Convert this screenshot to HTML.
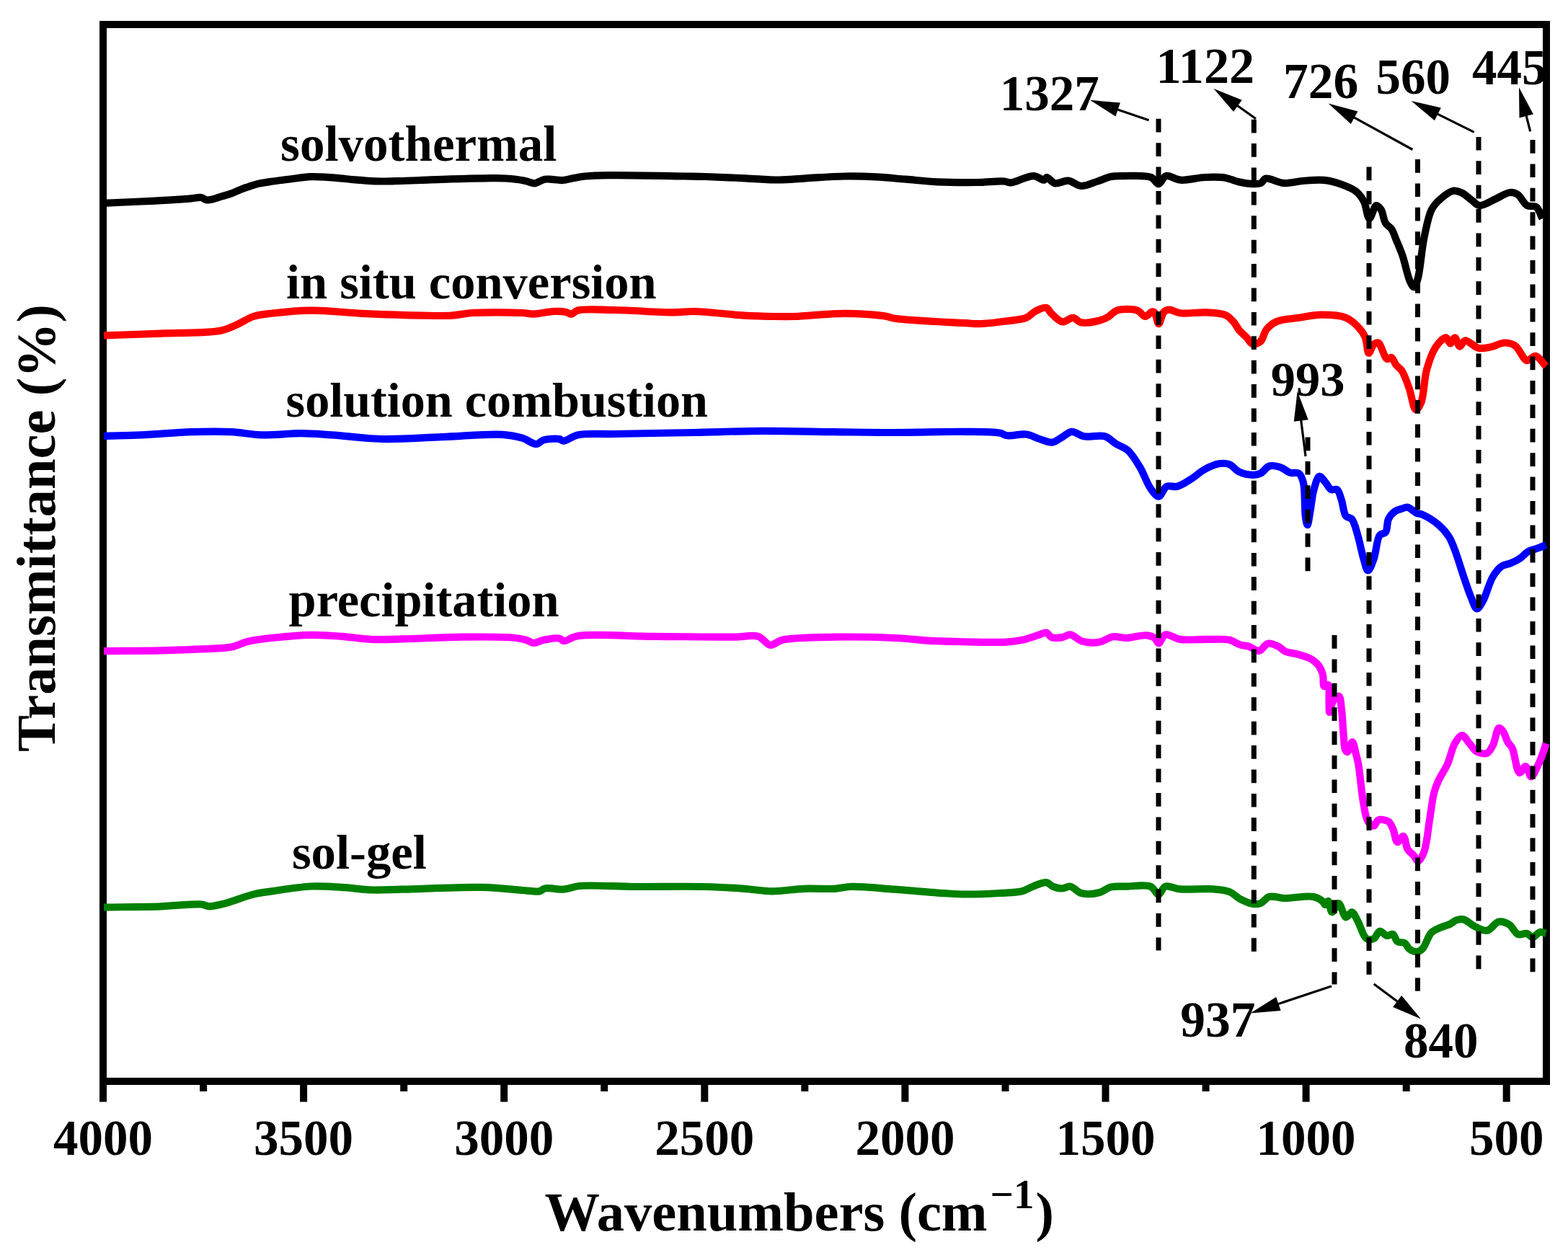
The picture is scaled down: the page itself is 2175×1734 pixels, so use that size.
<!DOCTYPE html>
<html><head><meta charset="utf-8"><title>FTIR spectra</title>
<style>html,body{margin:0;padding:0;background:#fff;}body{width:2175px;height:1734px;overflow:hidden;}svg{display:block;}</style>
</head><body>
<svg width="2175" height="1734" viewBox="0 0 2175 1734">
<defs><clipPath id="pc"><rect x="148" y="39" width="1992" height="1456"/></clipPath></defs>
<rect x="0" y="0" width="2175" height="1734" fill="#fff"/>
<rect x="143" y="34" width="2002" height="1466" fill="none" stroke="#000" stroke-width="10"/>
<line x1="143.0" y1="1500" x2="143.0" y2="1528.5" stroke="#000" stroke-width="10"/>
<line x1="282.1" y1="1500" x2="282.1" y2="1514" stroke="#000" stroke-width="10"/>
<line x1="421.1" y1="1500" x2="421.1" y2="1528.5" stroke="#000" stroke-width="10"/>
<line x1="560.2" y1="1500" x2="560.2" y2="1514" stroke="#000" stroke-width="10"/>
<line x1="699.2" y1="1500" x2="699.2" y2="1528.5" stroke="#000" stroke-width="10"/>
<line x1="838.2" y1="1500" x2="838.2" y2="1514" stroke="#000" stroke-width="10"/>
<line x1="977.3" y1="1500" x2="977.3" y2="1528.5" stroke="#000" stroke-width="10"/>
<line x1="1116.3" y1="1500" x2="1116.3" y2="1514" stroke="#000" stroke-width="10"/>
<line x1="1255.4" y1="1500" x2="1255.4" y2="1528.5" stroke="#000" stroke-width="10"/>
<line x1="1394.5" y1="1500" x2="1394.5" y2="1514" stroke="#000" stroke-width="10"/>
<line x1="1533.5" y1="1500" x2="1533.5" y2="1528.5" stroke="#000" stroke-width="10"/>
<line x1="1672.6" y1="1500" x2="1672.6" y2="1514" stroke="#000" stroke-width="10"/>
<line x1="1811.6" y1="1500" x2="1811.6" y2="1528.5" stroke="#000" stroke-width="10"/>
<line x1="1950.7" y1="1500" x2="1950.7" y2="1514" stroke="#000" stroke-width="10"/>
<line x1="2089.7" y1="1500" x2="2089.7" y2="1528.5" stroke="#000" stroke-width="10"/>
<path d="M144.0,281.8C161.2,281.0 181.1,280.2 195.7,279.5C206.4,279.0 213.3,278.7 223.5,278.1C236.0,277.4 255.0,276.2 265.2,275.4C271.1,274.9 275.3,273.4 279.1,274.0C281.9,274.5 283.7,276.9 286.1,277.3C288.4,277.7 290.3,277.2 293.0,276.7C296.9,276.0 302.3,274.0 307.0,272.6C311.6,271.2 316.3,270.1 320.9,268.4C325.6,266.7 330.4,264.1 334.8,262.4C338.7,260.9 342.1,259.8 346.0,258.6C350.3,257.2 354.6,255.7 359.4,254.6C364.7,253.4 370.1,252.7 376.5,251.8C384.7,250.6 395.3,249.3 404.4,248.2C413.1,247.1 421.9,245.6 430.0,245.2C437.3,244.8 443.9,245.2 450.9,245.6C457.8,246.0 464.8,246.7 471.7,247.3C478.7,247.9 485.1,248.7 492.6,249.3C501.2,250.0 511.1,251.1 520.4,251.4C529.7,251.7 538.5,251.4 548.3,251.2C559.2,251.0 570.9,250.4 583.0,250.0C596.3,249.5 610.3,248.8 624.8,248.4C640.4,247.9 659.5,247.4 673.5,247.3C684.1,247.2 692.2,246.9 701.3,247.5C710.3,248.1 720.5,249.3 727.8,250.7C733.1,251.7 736.7,254.5 741.2,254.3C746.0,254.0 750.1,249.6 755.7,248.7C762.8,247.6 773.6,250.5 780.7,250.0C786.0,249.6 789.7,248.2 794.6,247.3C799.9,246.3 804.8,245.2 811.3,244.5C820.5,243.5 830.4,243.3 844.7,243.1C870.1,242.7 926.7,244.1 950.5,244.5C962.6,244.7 967.2,244.7 978.0,245.0C993.4,245.5 1016.1,246.5 1034.0,247.3C1050.4,248.0 1066.6,249.6 1081.3,249.5C1094.2,249.4 1104.1,248.0 1117.5,247.3C1134.0,246.4 1155.8,244.7 1173.0,244.5C1188.0,244.3 1201.0,244.7 1215.0,245.4C1228.9,246.1 1242.6,247.6 1256.6,248.7C1270.9,249.9 1284.6,251.6 1300.0,252.3C1317.4,253.1 1339.0,253.2 1355.7,253.0C1369.3,252.8 1384.6,250.8 1392.8,251.5C1396.9,251.8 1398.0,253.6 1402.0,253.4C1409.4,253.1 1425.1,243.8 1433.6,244.1C1439.5,244.3 1445.3,250.4 1448.4,249.7C1450.2,249.3 1450.4,246.1 1452.0,246.0C1454.7,245.8 1458.8,253.3 1463.3,254.3C1468.5,255.5 1475.8,250.0 1481.8,250.6C1487.8,251.2 1493.1,257.6 1499.4,258.0C1506.5,258.4 1515.3,253.8 1522.6,251.5C1529.1,249.4 1534.8,246.2 1541.0,245.0C1547.1,243.8 1552.4,244.1 1559.7,244.1C1570.0,244.1 1588.6,242.6 1596.8,246.0C1601.8,248.1 1603.7,255.3 1607.0,255.2C1610.5,255.0 1612.8,245.4 1617.3,244.1C1622.6,242.6 1630.0,249.1 1637.7,249.7C1647.4,250.5 1660.3,246.5 1671.0,246.0C1681.0,245.6 1691.7,245.3 1700.0,246.7C1706.5,247.8 1711.0,250.6 1717.0,252.0C1723.7,253.5 1732.5,255.1 1738.4,255.2C1742.5,255.3 1746.1,255.4 1749.0,254.0C1751.7,252.7 1752.3,248.6 1755.5,247.7C1761.0,246.2 1772.4,253.5 1781.0,254.0C1789.5,254.5 1797.8,251.7 1806.7,251.0C1816.3,250.3 1827.0,248.9 1836.5,249.9C1845.4,250.8 1854.2,253.4 1862.0,256.3C1869.1,258.9 1876.3,261.7 1881.4,265.9C1886.0,269.7 1889.1,274.2 1892.0,279.7C1895.4,286.3 1896.5,302.9 1899.5,303.2C1902.2,303.4 1905.7,285.7 1909.0,285.0C1911.1,284.6 1913.6,287.7 1915.5,290.4C1918.4,294.6 1919.0,304.8 1922.0,309.6C1924.3,313.3 1928.1,314.5 1930.4,318.0C1933.2,322.1 1934.5,327.5 1936.8,333.0C1939.5,339.5 1942.6,346.3 1945.4,354.4C1949.0,364.8 1952.4,383.3 1956.0,390.7C1957.8,394.4 1959.7,398.4 1961.4,398.2C1963.4,398.0 1965.1,391.9 1966.7,386.4C1970.1,374.9 1971.7,347.9 1975.2,331.0C1978.3,316.3 1980.9,300.2 1986.0,290.4C1989.5,283.7 1993.8,279.7 1998.7,275.5C2003.7,271.2 2010.3,265.7 2015.8,264.8C2020.2,264.1 2024.5,266.1 2028.6,268.0C2033.1,270.1 2037.3,274.6 2041.4,277.6C2045.1,280.3 2047.7,284.5 2052.0,285.0C2057.8,285.7 2066.3,279.5 2073.4,276.5C2080.5,273.5 2088.7,267.4 2094.7,267.0C2098.8,266.7 2102.0,267.8 2105.4,270.0C2109.9,272.9 2113.4,282.3 2118.2,285.0C2122.1,287.2 2127.6,284.7 2131.0,287.2C2135.0,290.1 2136.7,297.9 2139.5,303.2" fill="none" stroke="#000000" stroke-width="10.2" stroke-linejoin="round" stroke-linecap="butt"/>
<path d="M144.0,465.4C170.5,464.5 196.7,463.7 223.5,462.6C251.0,461.4 288.2,462.3 307.0,458.4C317.0,456.3 322.0,453.2 329.3,450.0C336.8,446.7 343.7,441.5 351.5,439.0C359.4,436.4 366.6,436.0 376.6,434.8C391.5,433.0 412.6,430.7 432.2,430.6C454.1,430.4 477.5,433.7 501.8,434.8C528.4,436.0 562.2,437.2 585.3,437.6C601.6,437.9 614.5,438.4 627.0,437.6C637.3,436.9 643.6,434.7 655.0,434.0C673.0,432.9 709.7,433.2 724.5,434.0C731.5,434.4 734.1,435.7 740.0,435.6C747.9,435.5 759.7,432.3 767.8,432.0C774.1,431.7 779.9,431.9 784.5,432.8C787.8,433.4 790.2,435.9 792.9,435.6C795.7,435.3 797.0,431.8 801.2,430.6C810.7,427.9 832.5,429.7 851.3,430.0C875.6,430.3 914.4,433.5 934.8,433.4C946.6,433.3 951.3,431.8 962.7,432.0C980.7,432.3 1012.0,436.4 1032.2,437.6C1047.9,438.5 1061.5,438.8 1074.0,439.0C1084.2,439.2 1090.5,439.3 1101.8,439.0C1119.8,438.5 1149.5,434.8 1171.4,434.8C1191.0,434.8 1214.7,436.6 1227.0,438.4C1233.3,439.3 1234.7,440.7 1241.0,441.7C1253.3,443.6 1279.2,444.9 1296.6,446.0C1312.0,447.0 1328.6,447.6 1340.0,448.2C1347.5,448.6 1351.3,449.4 1358.6,449.2C1368.9,449.0 1384.2,447.0 1395.7,445.5C1405.7,444.2 1416.2,443.8 1423.5,440.8C1429.0,438.5 1431.8,433.8 1436.5,431.5C1441.1,429.2 1447.5,425.8 1451.3,426.9C1454.6,427.8 1455.6,432.5 1458.7,435.3C1462.7,438.9 1468.4,445.7 1473.6,446.4C1478.4,447.1 1483.9,440.4 1488.4,440.8C1492.5,441.1 1494.9,446.3 1499.6,447.3C1506.3,448.7 1518.7,446.2 1525.5,444.5C1530.1,443.3 1533.0,442.0 1536.7,439.9C1541.0,437.5 1544.1,432.4 1549.6,430.6C1556.8,428.3 1570.6,428.3 1577.5,430.6C1582.4,432.2 1585.0,438.9 1588.6,439.0C1591.8,439.1 1595.4,433.0 1597.9,432.5C1599.3,432.2 1600.5,432.4 1601.6,433.4C1604.0,435.5 1605.1,449.1 1607.2,449.2C1609.4,449.3 1611.4,435.6 1614.6,432.5C1616.7,430.5 1619.1,429.8 1622.0,429.7C1626.1,429.6 1630.7,433.4 1636.8,434.3C1646.3,435.6 1662.7,432.7 1674.0,433.4C1683.5,434.0 1693.5,434.2 1700.0,437.1C1704.8,439.3 1707.9,442.9 1711.0,446.4C1714.0,449.8 1715.6,453.9 1718.5,457.5C1721.7,461.4 1726.3,465.1 1729.6,468.6C1732.4,471.5 1733.9,476.1 1737.0,477.0C1740.2,477.9 1745.5,476.1 1748.6,473.5C1752.4,470.3 1753.0,461.7 1756.7,457.1C1760.4,452.5 1764.9,448.7 1771.0,446.0C1779.0,442.5 1791.4,442.4 1801.6,440.8C1811.8,439.3 1821.7,436.8 1832.2,436.7C1843.4,436.6 1857.9,437.2 1867.0,440.8C1873.9,443.6 1878.8,448.4 1883.3,453.0C1887.5,457.3 1891.0,461.7 1893.5,467.3C1896.4,473.7 1896.2,489.4 1898.6,489.8C1900.5,490.1 1903.0,479.9 1905.7,477.6C1907.6,476.1 1909.8,474.7 1911.8,475.5C1915.9,477.1 1919.9,496.4 1924.0,498.0C1926.1,498.8 1928.4,495.3 1930.2,496.0C1932.7,496.9 1933.9,502.9 1936.3,506.0C1938.7,509.0 1942.0,510.5 1944.5,514.3C1948.3,520.1 1951.6,530.2 1954.7,538.8C1958.1,548.1 1960.3,567.8 1963.9,568.4C1966.1,568.8 1969.0,563.8 1971.0,559.2C1975.1,549.9 1975.3,526.0 1979.2,512.2C1982.5,500.7 1986.1,489.3 1991.4,481.6C1995.5,475.7 2002.1,468.1 2005.7,468.4C2008.3,468.6 2009.8,476.5 2011.8,476.5C2013.9,476.5 2016.0,468.3 2018.0,468.4C2020.4,468.6 2022.5,480.3 2025.0,480.6C2027.2,480.8 2029.0,473.0 2032.2,472.4C2036.7,471.6 2044.4,481.3 2050.6,482.7C2056.0,483.9 2061.3,482.6 2067.0,481.6C2073.5,480.4 2081.1,475.5 2087.3,475.5C2092.5,475.5 2097.1,476.6 2101.6,479.6C2107.6,483.6 2112.5,498.8 2118.0,500.0C2122.0,500.9 2126.0,493.3 2130.0,493.9C2134.9,494.7 2139.7,503.4 2144.5,508.2" fill="none" stroke="#ff0000" stroke-width="10.2" stroke-linejoin="round" stroke-linecap="butt"/>
<path d="M144.0,604.8C161.2,604.3 177.2,604.2 195.7,603.4C217.2,602.5 243.3,599.9 265.2,599.2C284.8,598.6 303.8,598.3 321.0,599.2C335.9,600.0 347.8,602.9 362.7,603.4C379.9,603.9 401.1,601.1 418.3,601.2C433.2,601.3 444.3,602.4 460.0,603.4C480.3,604.7 505.3,608.4 529.6,609.0C556.2,609.6 585.3,607.2 613.1,606.2C640.9,605.2 676.3,601.5 696.6,602.8C708.4,603.6 716.2,605.1 724.5,607.6C731.7,609.7 738.6,616.3 744.0,616.0C747.9,615.8 749.8,611.6 754.0,610.4C759.8,608.7 771.1,608.1 776.0,609.0C778.6,609.5 779.2,611.7 781.7,611.7C786.2,611.8 793.0,605.2 801.2,603.4C813.8,600.6 831.3,602.5 851.3,602.0C881.1,601.3 926.8,600.7 962.7,600.0C996.2,599.3 1027.5,597.9 1060.0,597.8C1092.5,597.7 1126.3,598.8 1157.5,599.2C1186.4,599.5 1212.0,600.0 1241.0,600.0C1272.6,600.0 1313.2,598.4 1340.0,598.8C1358.4,599.0 1376.3,598.8 1386.4,600.6C1391.5,601.5 1393.0,603.7 1397.5,604.3C1404.3,605.2 1415.7,601.4 1423.5,602.5C1430.3,603.4 1435.9,607.1 1442.0,609.0C1447.9,610.8 1454.3,614.2 1459.7,613.6C1464.7,613.0 1469.1,608.7 1473.6,606.2C1478.0,603.8 1481.9,599.1 1486.6,598.8C1491.7,598.4 1496.8,604.1 1503.3,605.3C1511.7,606.9 1525.1,602.8 1533.0,605.3C1539.1,607.2 1542.6,612.3 1547.8,615.5C1553.1,618.8 1559.4,620.2 1564.5,624.7C1570.8,630.3 1576.1,639.6 1581.2,648.0C1586.7,657.1 1590.8,670.4 1596.0,677.6C1599.6,682.6 1603.6,688.9 1607.2,688.7C1611.0,688.5 1613.7,677.0 1618.3,674.8C1622.5,672.8 1627.9,676.1 1633.1,674.8C1639.6,673.2 1647.2,667.7 1653.5,663.7C1659.5,659.9 1664.1,655.0 1670.2,651.6C1676.5,648.1 1684.2,644.3 1690.6,643.3C1695.9,642.4 1700.9,642.5 1705.5,644.2C1710.3,646.0 1713.4,652.0 1718.5,654.4C1724.2,657.1 1732.9,658.8 1738.4,658.8C1742.4,658.8 1745.2,658.3 1748.6,656.7C1752.7,654.7 1756.1,647.9 1760.8,646.5C1765.6,645.1 1772.1,647.0 1777.0,648.6C1781.6,650.1 1785.1,654.4 1789.4,655.7C1793.4,656.9 1798.6,654.7 1801.6,656.7C1804.8,658.9 1806.3,663.4 1807.8,669.0C1810.6,679.4 1809.3,705.5 1810.8,716.0C1811.6,721.4 1812.5,728.2 1813.5,728.2C1814.8,728.2 1816.6,713.4 1818.0,705.7C1819.4,697.7 1819.9,688.9 1822.0,681.2C1824.0,674.0 1826.9,661.5 1830.2,660.8C1832.6,660.3 1835.8,666.0 1838.4,669.0C1841.2,672.1 1843.4,677.7 1846.5,679.2C1849.0,680.4 1852.5,677.7 1854.7,679.2C1857.7,681.2 1858.9,688.1 1860.8,693.5C1863.1,700.1 1863.5,711.8 1867.0,716.0C1869.1,718.6 1872.7,717.4 1875.0,720.0C1878.8,724.2 1880.8,734.2 1883.3,742.4C1886.3,752.2 1888.6,766.0 1891.4,775.0C1893.4,781.5 1895.2,791.3 1897.6,791.4C1900.0,791.5 1903.3,781.5 1905.7,775.0C1909.0,766.1 1909.5,747.8 1913.9,742.4C1916.2,739.6 1920.0,740.9 1922.0,738.4C1924.8,734.8 1923.6,725.0 1926.0,720.0C1928.0,715.8 1931.0,712.2 1934.3,709.8C1937.3,707.6 1941.2,706.7 1944.5,705.7C1947.3,704.8 1949.8,703.2 1952.7,703.7C1956.5,704.4 1961.2,710.1 1965.0,711.8C1967.8,713.1 1969.8,712.5 1973.0,713.9C1978.8,716.4 1989.2,722.8 1995.5,728.2C2001.2,733.1 2006.0,738.6 2009.8,744.5C2013.4,750.2 2015.2,755.6 2018.0,762.9C2021.9,773.0 2026.3,788.1 2030.2,799.6C2033.7,809.7 2036.9,820.1 2040.4,828.2C2043.1,834.5 2045.6,844.2 2048.6,844.5C2051.1,844.8 2054.0,839.0 2056.7,834.3C2061.4,826.4 2065.6,808.3 2071.0,799.6C2074.8,793.4 2078.7,788.4 2083.3,785.3C2087.1,782.8 2091.5,782.9 2095.5,781.2C2099.7,779.5 2103.9,777.7 2107.8,775.1C2112.0,772.3 2115.7,767.3 2120.0,764.9C2123.9,762.7 2128.2,762.3 2132.2,760.8C2136.3,759.3 2140.4,757.4 2144.5,755.7" fill="none" stroke="#0000ff" stroke-width="10.2" stroke-linejoin="round" stroke-linecap="butt"/>
<path d="M144.0,903.1C170.5,902.8 199.4,902.8 223.5,902.3C243.7,901.9 262.0,901.3 279.2,900.4C294.1,899.6 309.4,899.9 321.0,897.6C329.7,895.9 334.9,892.0 343.2,890.0C353.1,887.6 364.0,886.4 376.6,885.0C392.8,883.2 415.0,881.1 432.2,880.9C447.1,880.7 460.1,881.8 474.0,882.8C487.9,883.8 501.8,886.4 515.7,887.0C529.6,887.6 541.2,886.8 557.5,886.4C580.6,885.9 614.4,884.0 641.0,883.7C665.3,883.4 694.6,883.1 710.6,884.5C719.1,885.3 724.7,886.2 730.0,887.8C734.0,889.0 736.4,891.8 740.0,892.0C744.2,892.2 748.7,888.8 753.9,887.8C760.4,886.5 771.4,884.4 776.2,885.6C778.8,886.2 779.2,888.9 781.7,889.2C786.1,889.7 791.9,883.9 801.2,882.3C822.2,878.7 871.3,882.6 907.0,882.8C943.6,883.0 992.0,883.9 1018.3,883.7C1032.7,883.6 1042.8,880.1 1051.7,882.8C1058.7,884.9 1062.7,894.2 1068.4,894.8C1073.8,895.4 1077.3,889.6 1085.0,887.8C1100.5,884.2 1132.5,884.2 1157.5,883.7C1184.3,883.2 1216.0,883.9 1241.0,885.0C1261.4,885.9 1279.2,888.3 1296.6,889.2C1312.0,890.0 1324.6,890.1 1340.0,890.3C1357.4,890.6 1381.3,891.5 1395.7,890.6C1404.8,890.1 1410.5,889.4 1418.0,887.8C1425.9,886.1 1435.9,882.3 1442.0,880.4C1445.8,879.2 1448.5,877.0 1451.3,877.6C1454.1,878.2 1455.5,882.9 1458.7,884.1C1462.6,885.6 1469.1,884.8 1473.6,884.1C1477.6,883.4 1480.7,880.0 1484.7,880.4C1489.8,880.9 1495.1,887.9 1501.4,889.7C1508.5,891.7 1518.1,891.9 1525.5,890.6C1532.2,889.4 1537.7,884.1 1544.0,883.2C1550.1,882.3 1555.8,885.1 1562.6,885.0C1571.0,884.9 1583.4,880.6 1590.5,881.3C1595.1,881.7 1598.8,882.9 1601.6,885.0C1604.1,886.8 1605.1,892.5 1607.2,892.5C1609.9,892.5 1612.1,881.8 1616.4,880.4C1621.5,878.8 1628.9,885.7 1636.8,886.9C1647.2,888.5 1662.1,886.7 1674.0,886.9C1684.9,887.1 1697.1,885.9 1705.5,887.8C1711.5,889.2 1715.5,893.0 1720.3,894.5C1724.4,895.8 1728.1,895.5 1732.2,896.7C1736.8,898.1 1742.1,903.5 1746.5,902.9C1751.0,902.3 1754.3,893.7 1758.8,892.7C1763.1,891.8 1768.8,894.7 1773.0,896.7C1776.9,898.5 1779.4,902.2 1783.3,903.9C1787.5,905.7 1792.7,905.7 1797.6,907.0C1802.9,908.4 1809.8,910.4 1813.9,912.0C1816.5,913.0 1817.9,913.6 1820.0,915.0C1822.9,917.0 1826.8,920.0 1829.3,923.3C1831.8,926.7 1833.6,930.9 1834.9,935.4C1836.3,940.4 1834.6,950.7 1836.8,952.0C1838.1,952.8 1841.0,949.2 1842.3,950.0C1844.6,951.5 1843.2,963.5 1843.5,970.0C1843.8,976.2 1843.3,987.9 1844.2,988.0C1845.0,988.1 1846.3,978.7 1848.0,975.0C1849.4,971.9 1851.1,968.4 1853.0,967.0C1854.4,966.0 1856.3,965.2 1857.5,966.0C1859.9,967.6 1860.0,977.6 1861.0,985.0C1862.3,995.1 1862.8,1010.9 1863.8,1021.0C1864.5,1028.3 1864.3,1036.5 1866.0,1040.0C1866.8,1041.6 1867.9,1043.2 1869.0,1043.0C1871.0,1042.7 1874.0,1029.2 1875.9,1029.4C1877.8,1029.6 1879.1,1039.2 1880.5,1044.3C1881.9,1049.4 1882.9,1053.1 1884.2,1060.0C1886.5,1072.7 1888.6,1100.5 1891.4,1115.1C1893.3,1125.0 1894.2,1134.5 1897.6,1139.6C1899.8,1142.9 1903.3,1146.0 1905.7,1145.7C1908.1,1145.4 1908.9,1138.8 1911.8,1137.6C1915.3,1136.2 1922.6,1137.3 1926.0,1139.6C1929.1,1141.7 1930.3,1145.8 1932.2,1149.8C1934.6,1154.9 1935.5,1167.5 1938.4,1168.2C1940.6,1168.7 1944.3,1159.5 1946.5,1160.0C1949.4,1160.7 1949.8,1173.7 1952.7,1178.4C1954.9,1182.0 1958.4,1183.7 1960.8,1186.5C1963.1,1189.1 1964.8,1194.8 1967.0,1194.7C1969.6,1194.6 1972.8,1188.1 1975.1,1182.4C1979.2,1172.1 1980.8,1150.2 1983.3,1135.5C1985.5,1122.5 1986.8,1108.5 1989.4,1098.8C1991.2,1092.1 1992.9,1088.2 1995.5,1082.4C1998.7,1075.4 2004.2,1068.1 2007.8,1060.0C2011.8,1051.2 2013.8,1038.4 2018.0,1031.4C2021.0,1026.4 2024.8,1020.2 2028.2,1020.2C2031.6,1020.2 2035.0,1027.7 2038.4,1031.4C2041.8,1035.2 2044.4,1040.5 2048.6,1042.7C2052.6,1044.8 2059.1,1046.3 2062.9,1044.7C2066.6,1043.1 2068.6,1038.1 2071.0,1033.5C2074.2,1027.3 2075.9,1010.9 2079.2,1010.0C2081.1,1009.5 2083.5,1012.7 2085.3,1015.1C2087.8,1018.5 2089.1,1025.4 2091.4,1029.4C2093.3,1032.6 2095.6,1033.7 2097.6,1037.6C2101.3,1045.0 2103.6,1071.3 2107.8,1072.2C2110.3,1072.8 2113.5,1062.7 2116.0,1063.0C2118.9,1063.3 2121.3,1077.2 2124.0,1077.3C2126.7,1077.4 2129.8,1068.6 2132.2,1064.0C2134.6,1059.4 2136.5,1054.9 2138.4,1049.8C2140.6,1044.1 2142.5,1037.5 2144.5,1031.4" fill="none" stroke="#ff00ff" stroke-width="10.2" stroke-linejoin="round" stroke-linecap="butt"/>
<path d="M144.0,1258.7C170.5,1258.2 199.4,1258.1 223.5,1257.3C243.7,1256.6 267.8,1253.4 279.2,1254.5C284.4,1255.0 285.9,1257.2 290.3,1257.3C296.4,1257.5 304.2,1255.2 312.6,1253.1C323.9,1250.2 339.9,1243.4 351.5,1240.6C360.7,1238.4 366.6,1237.9 376.6,1236.4C391.5,1234.2 415.0,1230.3 432.2,1229.5C447.1,1228.8 460.1,1230.1 474.0,1230.9C487.9,1231.7 501.8,1234.0 515.7,1234.5C529.6,1235.0 540.2,1234.1 557.5,1233.7C585.7,1233.1 638.1,1230.2 668.8,1230.9C690.6,1231.4 711.7,1233.9 724.5,1235.0C731.3,1235.6 735.6,1236.2 740.0,1236.4C743.2,1236.5 745.6,1237.0 748.3,1236.4C751.2,1235.7 753.0,1233.0 756.7,1232.3C762.7,1231.1 773.6,1234.3 781.7,1233.7C789.4,1233.1 794.3,1229.9 804.0,1229.0C821.6,1227.3 852.5,1229.8 879.2,1230.0C909.6,1230.2 948.7,1229.3 976.6,1230.0C997.7,1230.5 1015.3,1231.6 1032.2,1232.8C1046.4,1233.8 1057.8,1236.3 1071.2,1236.4C1085.5,1236.5 1101.1,1233.4 1115.7,1232.8C1129.8,1232.2 1145.8,1233.5 1157.5,1232.8C1166.1,1232.3 1170.4,1230.3 1179.7,1230.0C1195.0,1229.5 1219.9,1232.2 1241.0,1233.7C1263.5,1235.3 1292.3,1238.1 1310.6,1239.2C1322.5,1239.9 1329.1,1240.4 1340.0,1240.5C1353.7,1240.6 1372.4,1239.8 1386.4,1239.0C1398.0,1238.3 1409.6,1238.4 1418.0,1236.2C1424.0,1234.7 1427.5,1231.6 1432.8,1229.7C1438.6,1227.6 1446.3,1223.5 1451.3,1224.1C1455.1,1224.6 1457.1,1228.3 1460.6,1229.7C1464.5,1231.2 1469.4,1232.6 1473.6,1232.5C1477.5,1232.4 1480.9,1229.1 1484.7,1229.7C1489.5,1230.4 1493.7,1237.4 1499.6,1239.0C1506.8,1240.9 1518.2,1239.9 1525.5,1238.0C1531.3,1236.5 1534.8,1232.0 1540.4,1230.6C1546.9,1228.9 1554.4,1229.9 1562.6,1229.7C1572.6,1229.5 1588.2,1226.5 1596.0,1229.7C1601.3,1231.9 1603.7,1241.0 1607.2,1240.8C1610.5,1240.6 1612.1,1231.2 1616.4,1229.7C1621.5,1227.8 1628.6,1232.7 1636.8,1233.4C1649.1,1234.5 1670.6,1232.4 1683.2,1233.4C1692.0,1234.1 1699.1,1234.5 1705.5,1237.1C1711.1,1239.4 1714.7,1244.2 1720.0,1247.0C1725.6,1249.9 1733.1,1253.3 1738.4,1254.0C1742.2,1254.5 1745.2,1254.3 1748.6,1253.0C1752.7,1251.4 1755.9,1245.3 1760.8,1243.9C1766.5,1242.3 1773.2,1245.8 1781.2,1246.0C1792.5,1246.3 1812.5,1241.9 1822.0,1243.9C1827.5,1245.0 1831.5,1247.7 1834.3,1250.0C1836.3,1251.6 1837.0,1255.1 1838.4,1255.1C1839.7,1255.1 1841.2,1249.8 1842.4,1250.0C1844.4,1250.3 1845.2,1264.9 1847.6,1265.3C1850.0,1265.7 1853.7,1252.9 1856.7,1253.1C1860.2,1253.4 1863.3,1271.7 1867.0,1272.4C1869.6,1272.9 1872.6,1265.0 1875.1,1265.3C1878.1,1265.7 1880.5,1272.7 1883.3,1277.6C1887.2,1284.3 1890.5,1298.9 1895.5,1302.0C1898.6,1303.9 1902.8,1303.4 1905.7,1302.0C1909.0,1300.4 1910.8,1292.3 1913.9,1291.8C1916.9,1291.3 1920.7,1297.5 1924.0,1298.0C1926.8,1298.4 1929.9,1295.1 1932.2,1296.0C1934.9,1297.1 1935.5,1304.1 1938.4,1306.1C1941.1,1308.0 1945.9,1306.5 1948.6,1308.2C1951.3,1309.9 1952.1,1314.3 1954.7,1316.3C1957.4,1318.4 1961.7,1320.5 1964.9,1320.4C1967.8,1320.3 1970.4,1318.8 1973.0,1316.3C1977.4,1312.1 1980.7,1298.7 1985.3,1293.9C1988.5,1290.6 1991.6,1289.7 1995.5,1287.8C2000.2,1285.5 2007.4,1283.8 2011.8,1281.6C2015.1,1280.0 2017.0,1277.5 2020.0,1276.5C2023.1,1275.4 2026.6,1274.6 2030.2,1275.5C2035.2,1276.7 2040.9,1283.1 2046.5,1285.7C2051.8,1288.1 2057.7,1291.7 2062.9,1290.8C2068.6,1289.8 2073.7,1279.6 2079.2,1278.6C2083.9,1277.7 2089.2,1280.1 2093.5,1282.7C2098.2,1285.6 2101.1,1294.2 2105.7,1296.0C2109.5,1297.5 2114.4,1294.1 2118.0,1295.0C2121.1,1295.8 2123.3,1300.1 2126.1,1300.0C2129.3,1299.9 2132.9,1293.5 2136.3,1292.9C2139.1,1292.4 2141.8,1294.2 2144.5,1294.9" fill="none" stroke="#008000" stroke-width="10.2" stroke-linejoin="round" stroke-linecap="butt"/>
<line x1="1607" y1="164.8" x2="1607" y2="1318.5" stroke="#000" stroke-width="7" stroke-dasharray="18.7 14.7"/>
<line x1="1739.3" y1="165.7" x2="1739.3" y2="1320" stroke="#000" stroke-width="7" stroke-dasharray="18.7 14.7"/>
<line x1="1899" y1="231.5" x2="1899" y2="1352" stroke="#000" stroke-width="7" stroke-dasharray="18.7 14.7"/>
<line x1="1966.5" y1="221" x2="1966.5" y2="1374.7" stroke="#000" stroke-width="7" stroke-dasharray="18.7 14.7"/>
<line x1="2051" y1="189.9" x2="2051" y2="1345.2" stroke="#000" stroke-width="7" stroke-dasharray="18.7 14.7"/>
<line x1="2126" y1="194" x2="2126" y2="1348.4" stroke="#000" stroke-width="7" stroke-dasharray="18.7 14.7"/>
<line x1="1814" y1="606.5" x2="1814" y2="792.4" stroke="#000" stroke-width="7" stroke-dasharray="18.7 14.7"/>
<line x1="1851" y1="881" x2="1851" y2="1365.4" stroke="#000" stroke-width="7" stroke-dasharray="18.7 14.7"/>
<line x1="1593.6" y1="166.7" x2="1548.8" y2="151.4" stroke="#000" stroke-width="3.2"/>
<polygon points="1511.9,138.8 1553.9,142.6 1547.5,161.5" fill="#000"/>
<line x1="1742" y1="164.8" x2="1715.3" y2="145.7" stroke="#000" stroke-width="3.2"/>
<polygon points="1683.5,123.1 1722.7,138.8 1711.1,155.0" fill="#000"/>
<line x1="1959.4" y1="207.5" x2="1876.8" y2="162.2" stroke="#000" stroke-width="3.2"/>
<polygon points="1842.6,143.5 1883.4,154.4 1873.8,172.0" fill="#000"/>
<line x1="2044.8" y1="183.4" x2="1992.5" y2="157.4" stroke="#000" stroke-width="3.2"/>
<polygon points="1957.6,140.1 1998.8,149.4 1989.9,167.3" fill="#000"/>
<line x1="2122.7" y1="182.4" x2="2116.7" y2="159.0" stroke="#000" stroke-width="3.2"/>
<polygon points="2107,121.2 2126.9,158.4 2107.5,163.4" fill="#000"/>
<line x1="1811" y1="633" x2="1804.5" y2="581.5" stroke="#000" stroke-width="3.2"/>
<polygon points="1799.6,542.8 1814.7,582.2 1794.8,584.7" fill="#000"/>
<line x1="1847" y1="1368" x2="1771.5" y2="1393.2" stroke="#000" stroke-width="3.2"/>
<polygon points="1734.5,1405.5 1770.2,1383.0 1776.6,1402.0" fill="#000"/>
<line x1="1905.7" y1="1365" x2="1939.7" y2="1390.3" stroke="#000" stroke-width="3.2"/>
<polygon points="1971,1413.6 1932.1,1397.1 1944.1,1381.1" fill="#000"/>
<text x="143.0" y="1602" font-size="69" text-anchor="middle" font-family="'Liberation Serif', 'Times New Roman', serif" font-weight="bold">4000</text>
<text x="421.1" y="1602" font-size="69" text-anchor="middle" font-family="'Liberation Serif', 'Times New Roman', serif" font-weight="bold">3500</text>
<text x="699.2" y="1602" font-size="69" text-anchor="middle" font-family="'Liberation Serif', 'Times New Roman', serif" font-weight="bold">3000</text>
<text x="977.3" y="1602" font-size="69" text-anchor="middle" font-family="'Liberation Serif', 'Times New Roman', serif" font-weight="bold">2500</text>
<text x="1255.4" y="1602" font-size="69" text-anchor="middle" font-family="'Liberation Serif', 'Times New Roman', serif" font-weight="bold">2000</text>
<text x="1533.5" y="1602" font-size="69" text-anchor="middle" font-family="'Liberation Serif', 'Times New Roman', serif" font-weight="bold">1500</text>
<text x="1811.6" y="1602" font-size="69" text-anchor="middle" font-family="'Liberation Serif', 'Times New Roman', serif" font-weight="bold">1000</text>
<text x="2089.7" y="1602" font-size="69" text-anchor="middle" font-family="'Liberation Serif', 'Times New Roman', serif" font-weight="bold">500</text>
<text x="755.5" y="1707" font-size="76.5" font-family="'Liberation Serif', 'Times New Roman', serif" font-weight="bold">Wavenumbers (cm<tspan font-size="57" dx="4" dy="-31">&#8722;1</tspan><tspan dx="2" dy="31">)</tspan></text>
<text transform="translate(75.7,1043) rotate(-90)" x="0" y="0" font-size="76.5" font-family="'Liberation Serif', 'Times New Roman', serif" font-weight="bold">Transmittance (%)</text>
<text x="389.1" y="223.2" font-size="69" font-family="'Liberation Serif', 'Times New Roman', serif" font-weight="bold">solvothermal</text>
<text x="396.9" y="414.2" font-size="68.5" font-family="'Liberation Serif', 'Times New Roman', serif" font-weight="bold">in situ conversion</text>
<text x="396.6" y="578" font-size="68.2" font-family="'Liberation Serif', 'Times New Roman', serif" font-weight="bold">solution combustion</text>
<text x="400.6" y="855" font-size="68.4" font-family="'Liberation Serif', 'Times New Roman', serif" font-weight="bold">precipitation</text>
<text x="404.9" y="1204.8" font-size="68.7" font-family="'Liberation Serif', 'Times New Roman', serif" font-weight="bold">sol-gel</text>
<text x="1386.8" y="152.5" font-size="69" font-family="'Liberation Serif', 'Times New Roman', serif" font-weight="bold">1327</text>
<text x="1603.6" y="115.3" font-size="70.2" font-family="'Liberation Serif', 'Times New Roman', serif" font-weight="bold">1122</text>
<text x="1780" y="135.5" font-size="69.5" font-family="'Liberation Serif', 'Times New Roman', serif" font-weight="bold">726</text>
<text x="1908.4" y="129.5" font-size="69" font-family="'Liberation Serif', 'Times New Roman', serif" font-weight="bold">560</text>
<text x="1762.8" y="549" font-size="68.5" font-family="'Liberation Serif', 'Times New Roman', serif" font-weight="bold">993</text>
<text x="1637.3" y="1438" font-size="69.5" font-family="'Liberation Serif', 'Times New Roman', serif" font-weight="bold">937</text>
<text x="1946.9" y="1467" font-size="69" font-family="'Liberation Serif', 'Times New Roman', serif" font-weight="bold">840</text>
<g clip-path="url(#pc)"><text x="2042" y="117" font-size="69" font-family="'Liberation Serif', 'Times New Roman', serif" font-weight="bold">445</text></g>
</svg>
</body></html>
